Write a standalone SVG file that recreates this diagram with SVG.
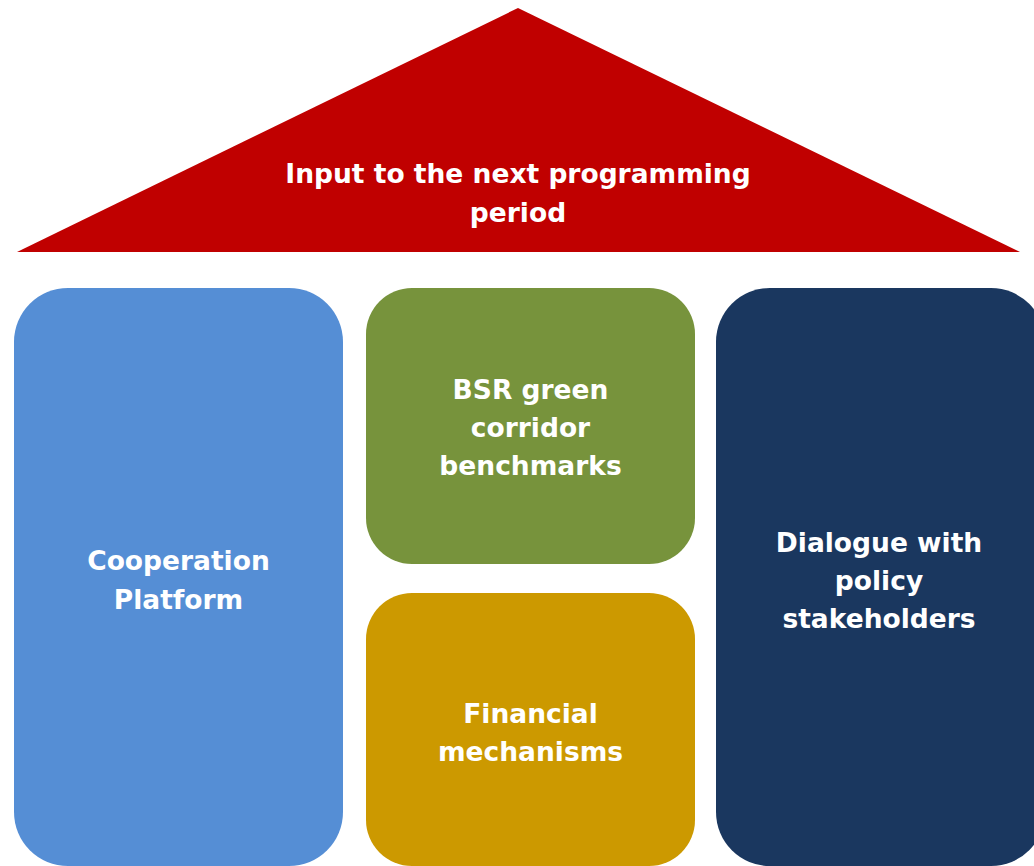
<svg xmlns="http://www.w3.org/2000/svg" width="1034" height="866" viewBox="0 0 1034 866">
<style>
.lbl{font-family:"DejaVu Sans","Verdana",sans-serif;font-weight:bold;font-size:26.5px;fill:#FFFFFF;text-anchor:middle}
</style>
<rect width="1034" height="866" fill="#FFFFFF"/>
<g id="roof">
<polygon points="17,252 1020,252 518,8" fill="#C00000"/>
<text class="lbl" x="518" y="183">Input to the next programming</text>
<text class="lbl" x="518" y="221.5">period</text>
</g>
<g id="cooperation-platform">
<rect x="14" y="288" width="329" height="578" rx="54" ry="54" fill="#558ED5"/>
<text class="lbl" x="178.5" y="570">Cooperation</text>
<text class="lbl" x="178.5" y="609">Platform</text>
</g>
<g id="bsr-green-corridor">
<rect x="366" y="288" width="329" height="276" rx="46" ry="46" fill="#77933C"/>
<text class="lbl" x="530.5" y="399">BSR green</text>
<text class="lbl" x="530.5" y="437">corridor</text>
<text class="lbl" x="530.5" y="475">benchmarks</text>
</g>
<g id="financial-mechanisms">
<rect x="366" y="593" width="329" height="273" rx="46" ry="46" fill="#CC9900"/>
<text class="lbl" x="530.5" y="723">Financial</text>
<text class="lbl" x="530.5" y="761">mechanisms</text>
</g>
<g id="dialogue">
<rect x="716" y="288" width="329" height="578" rx="54" ry="54" fill="#1A375F"/>
<text class="lbl" x="879" y="552">Dialogue with</text>
<text class="lbl" x="879" y="590">policy</text>
<text class="lbl" x="879" y="628">stakeholders</text>
</g>
<g id="connectors"></g>
</svg>
